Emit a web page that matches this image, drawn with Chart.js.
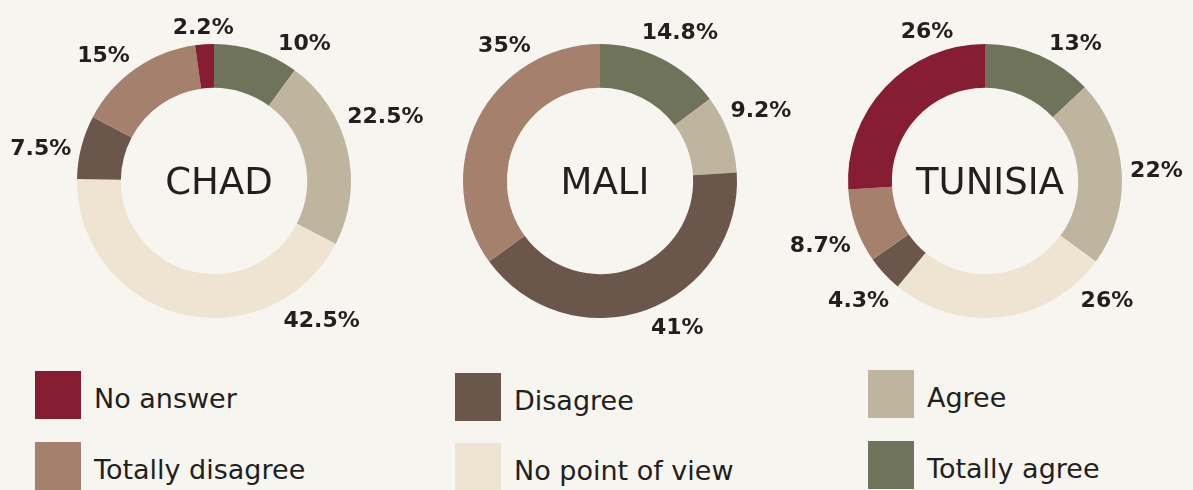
<!DOCTYPE html>
<html>
<head>
<meta charset="utf-8">
<script src="https://cdn.jsdelivr.net/npm/chart.js@4.4.1/dist/chart.umd.min.js"></script>
<style>
  html, body { margin: 0; padding: 0; background: #F7F5F0; }
  body { width: 1193px; height: 490px; position: relative; overflow: hidden; font-family: "DejaVu Sans", sans-serif; }
  .chart { position: absolute; top: 0; left: 0; width: 1193px; height: 362px; }
  .legend-item { position: absolute; height: 48px; }
  .legend-box { position: absolute; left: 0; top: 0; width: 46px; height: 48px; }
  .legend-text { position: absolute; left: 59px; top: 4px; line-height: 48px; font-size: 27px; color: #231F20; white-space: nowrap; }
</style>
</head>
<body>
<div class="chart"><canvas id="c0"></canvas></div>
<div class="chart"><canvas id="c1"></canvas></div>
<div class="chart"><canvas id="c2"></canvas></div>
<div id="legend"></div>
<script>
// ---- Data ----
// Segment order, clockwise from 12 o'clock
const categories = ["Totally agree", "Agree", "No point of view", "Disagree", "Totally disagree", "No answer"];
const countries = ["CHAD", "MALI", "TUNISIA"];
const chadValues = [10, 22.5, 42.5, 7.5, 15, 2.2];
const maliValues = [14.8, 9.2, 0, 41, 35, 0];
const tunisiaValues = [13, 22, 26, 4.3, 8.7, 26];

// ---- Styling / layout ----
const colors = ["#6F735A", "#BFB59E", "#EFE4D1", "#6B564B", "#A4806D", "#861D33"];
const textColor = "#231F20";
// label direction (degrees clockwise from top) as placed in the original
const chadLabelAngles = [33, 69, 142, 281, 319, 356];
const maliLabelAngles = [28, 66, null, 152, 325, null];
const tunisiaLabelAngles = [33, 86, 134, 227, 249, 339];
const paddings = [
  {left: 77, right: 842, top: 44, bottom: 44},
  {left: 463, right: 456, top: 44, bottom: 44},
  {left: 848, right: 71, top: 44, bottom: 44}
];
// legend layout: [category, left, top]
const legendLayout = [
  ["No answer", 35, 371], ["Totally disagree", 35, 442],
  ["Disagree", 455, 373], ["No point of view", 455, 443],
  ["Agree", 868, 370], ["Totally agree", 868, 441]
];

const allValues = [chadValues, maliValues, tunisiaValues];
const allAngles = [chadLabelAngles, maliLabelAngles, tunisiaLabelAngles];

function fmt(v) { return v + "%"; }

const labelPlugin = {
  id: "doughnutLabels",
  afterDraw(chart, args, opts) {
    const ctx = chart.ctx;
    const meta = chart.getDatasetMeta(0);
    const values = chart.data.datasets[0].data;
    ctx.save();
    // center text
    const arc0 = meta.data[0];
    ctx.fillStyle = textColor;
    ctx.font = "400 37px 'DejaVu Sans'";
    ctx.textAlign = "center";
    ctx.textBaseline = "alphabetic";
    ctx.fillText(opts.title, arc0.x + 5, arc0.y + 13);
    // value labels
    const fs = 22;
    ctx.font = "bold " + fs + "px 'DejaVu Sans'";
    const capH = fs * 0.73;
    meta.data.forEach((arc, i) => {
      const v = values[i];
      if (!v) return;
      let a;
      if (opts.angles && opts.angles[i] != null) {
        a = opts.angles[i] * Math.PI / 180 - Math.PI / 2;
      } else {
        a = (arc.startAngle + arc.endAngle) / 2;
      }
      const txt = fmt(v);
      const w = ctx.measureText(txt).width;
      const dx = Math.cos(a), dy = Math.sin(a);
      const r = arc.outerRadius + 8 + Math.abs(dx) * w / 2 + Math.abs(dy) * capH / 2;
      const x = arc.x + dx * r;
      const y = arc.y + dy * r;
      ctx.textAlign = "center";
      ctx.textBaseline = "alphabetic";
      ctx.fillText(txt, x, y + capH / 2);
    });
    ctx.restore();
  }
};

countries.forEach((name, k) => {
  new Chart(document.getElementById("c" + k), {
    type: "doughnut",
    data: {
      labels: categories,
      datasets: [{
        data: allValues[k],
        backgroundColor: colors,
        borderWidth: 0,
        hoverOffset: 0
      }]
    },
    options: {
      responsive: true,
      maintainAspectRatio: false,
      animation: false,
      cutout: "68%",
      rotation: 0,
      layout: { padding: paddings[k] },
      events: [],
      plugins: {
        legend: { display: false },
        tooltip: { enabled: false },
        doughnutLabels: { title: name, angles: allAngles[k] }
      }
    },
    plugins: [labelPlugin]
  });
});

// HTML legend built from categories and colors
const legend = document.getElementById("legend");
legendLayout.forEach(([cat, left, top]) => {
  const idx = categories.indexOf(cat);
  const item = document.createElement("div");
  item.className = "legend-item";
  item.style.left = left + "px";
  item.style.top = top + "px";
  const box = document.createElement("div");
  box.className = "legend-box";
  box.style.background = colors[idx];
  const t = document.createElement("div");
  t.className = "legend-text";
  t.textContent = cat;
  item.appendChild(box);
  item.appendChild(t);
  legend.appendChild(item);
});
</script>
</body>
</html>
